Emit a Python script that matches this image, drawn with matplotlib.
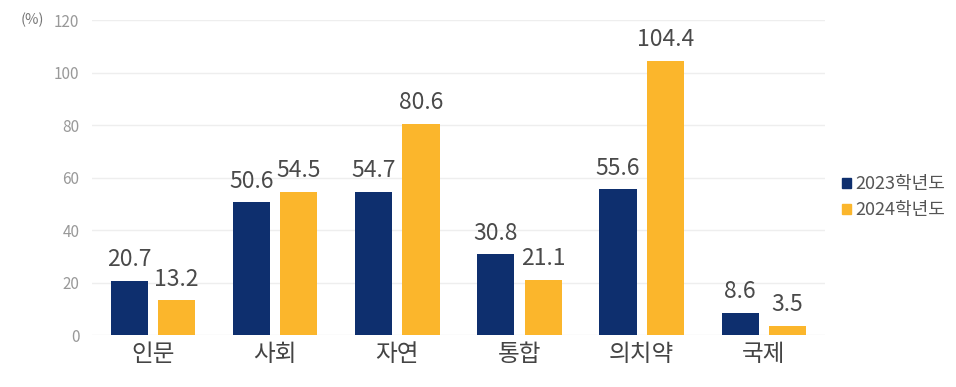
import matplotlib
matplotlib.use("Agg")
import matplotlib.pyplot as plt
import numpy as np
from matplotlib.patches import Patch

plt.rcParams['font.family'] = ['Noto Sans CJK KR', 'DejaVu Sans']

categories = ["인문", "사회", "자연", "통합", "의치약", "국제"]
series_names = ["2023학년도", "2024학년도"]
values_2023 = [20.7, 50.6, 54.7, 30.8, 55.6, 8.6]
values_2024 = [13.2, 54.5, 80.6, 21.1, 104.4, 3.5]
yticks = [0, 20, 40, 60, 80, 100, 120]

c23 = "#0E2F6E"
c24 = "#FBB62C"

fig = plt.figure(figsize=(9.56, 3.87), dpi=100)
ax = fig.add_axes([0.096, 0.134, 0.767, 0.814])

x = np.arange(len(categories))
w = 0.305
off = 0.194
b1 = ax.bar(x - off, values_2023, w, color=c23)
b2 = ax.bar(x + off, values_2024, w, color=c24)

for bars, vals in ((b1, values_2023), (b2, values_2024)):
    for b, v in zip(bars, vals):
        ax.annotate(f"{v}", (b.get_x() + b.get_width() / 2, v), xytext=(0, 10.5),
                    textcoords="offset points", ha="center", va="baseline",
                    fontsize=16.5, color="#4A4A4A")

ax.set_ylim(0, 120)
ax.set_xlim(-0.5, len(categories) - 0.5)
ax.set_yticks(yticks)
ax.set_yticklabels([str(t) for t in yticks], fontsize=11, color="#999999")
ax.set_xticks(x)
ax.set_xticklabels(categories, fontsize=17, color="#444444")
ax.tick_params(axis="both", length=0)
ax.tick_params(axis="y", pad=9)
ax.tick_params(axis="x", pad=6)
ax.grid(axis="y", color="#EEEEEE", linewidth=1)
ax.set_axisbelow(True)
for s in ax.spines.values():
    s.set_visible(False)

fig.canvas.draw()
ytop = ax.transData.transform((0, 120))[1] / fig.bbox.height
fig.text(0.022, ytop, "(%)", fontsize=10.5, color="#777777", va="center", ha="left")

handles = [Patch(color=c23), Patch(color=c24)]
leg = fig.legend(handles, series_names, loc="center left", bbox_to_anchor=(0.864, 0.49),
                 frameon=False, fontsize=13, handlelength=0.5, handleheight=0.5,
                 handletextpad=0.25, labelspacing=0.45)
for t in leg.get_texts():
    t.set_color("#555555")

fig.savefig("out.png", dpi=100)
